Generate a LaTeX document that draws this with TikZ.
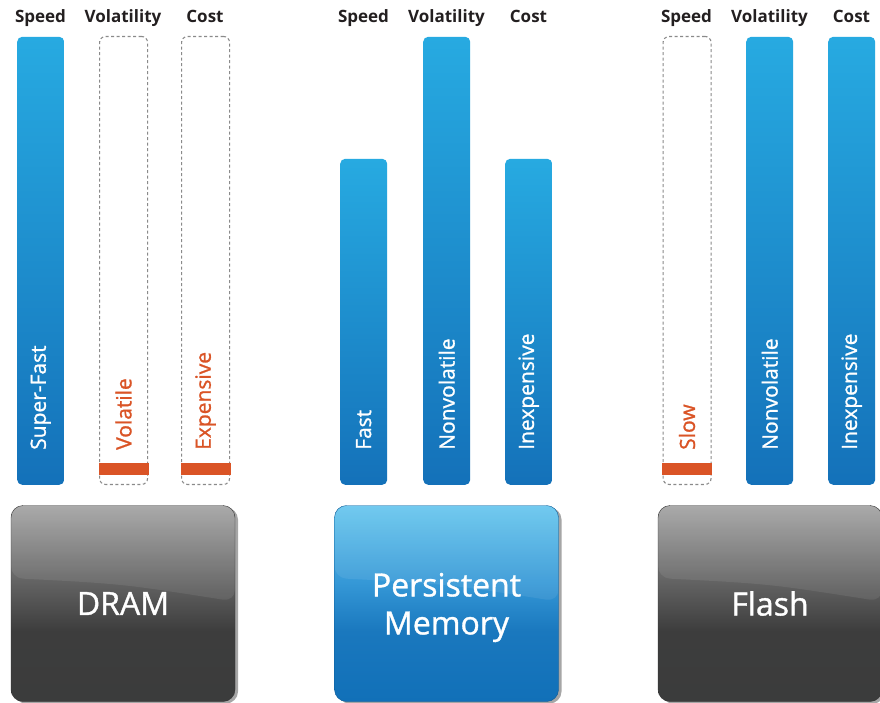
\documentclass[tikz,border=0pt]{standalone}
\usepackage{fontspec}
\setmainfont{Open Sans}
\newfontfamily\medfont{Open Sans}[FakeBold=1.1]
\usetikzlibrary{shadows,calc}

\definecolor{barlight}{HTML}{27AAE1}
\definecolor{bardark}{HTML}{1471B9}
\definecolor{flag}{HTML}{DA5426}
\definecolor{dashgray}{HTML}{8A8A8A}
\definecolor{ink}{HTML}{231F20}
\definecolor{grayA}{HTML}{A3A3A3}
\definecolor{grayB}{HTML}{616161}
\definecolor{grayC}{HTML}{3D3D3D}
\definecolor{grayD}{HTML}{3B3C3C}
\definecolor{blueA}{HTML}{66C6EE}
\definecolor{blueB}{HTML}{3497D6}
\definecolor{blueC}{HTML}{1A78BE}
\definecolor{blueD}{HTML}{1170B8}
\definecolor{blueEdge}{HTML}{0C5A96}

% Glassy card fills: light top, quick fall-off, flat dark lower half
\pgfdeclareverticalshading{graycardfill}{100bp}{%
  color(0bp)=(grayD); color(25bp)=(grayD); color(43bp)=(grayC);
  color(55bp)=(grayB); color(75bp)=(grayA); color(100bp)=(grayA)}
\pgfdeclareverticalshading{bluecardfill}{100bp}{%
  color(0bp)=(blueD); color(25bp)=(blueD); color(43bp)=(blueC);
  color(55bp)=(blueB); color(75bp)=(blueA); color(100bp)=(blueA)}

\tikzset{
  colhead/.style={font=\fontsize{17}{17}\selectfont\bfseries, text=ink, inner sep=0pt, anchor=base},
  fullbar/.style={rounded corners=5pt, top color=barlight, bottom color=bardark, draw=none,
    minimum width=47pt, anchor=south west, inner sep=0pt},
  emptybar/.style={rounded corners=6pt, draw=dashgray, dash pattern=on 3pt off 2.5pt, line width=1.1pt,
    minimum width=48pt, minimum height=448pt, anchor=south west, inner sep=0pt},
  flagbar/.style={fill=flag, draw=none, minimum width=50pt, minimum height=12pt, inner sep=0pt, anchor=south},
  barlabel/.style={rotate=90, anchor=west, inner sep=0pt, font=\medfont\fontsize{21}{21}\selectfont},
  onbar/.style={barlabel, text=white},
  offbar/.style={barlabel, text=flag},
  gloss/.style={path picture={
    \fill[white, opacity=0.08] (path picture bounding box.north west) -- (path picture bounding box.north east)
      -- ($(path picture bounding box.north east)!0.49!(path picture bounding box.south east)$)
      .. controls ($(path picture bounding box.north east)!0.5!(path picture bounding box.north west)
                   + (0,-0.40*196pt)$) ..
      ($(path picture bounding box.north west)!0.37!(path picture bounding box.south west)$) -- cycle;}},
  memcard/.style={rounded corners=12pt, minimum width=224pt, minimum height=196pt, inner sep=0pt, gloss,
    drop shadow={shadow xshift=3pt, shadow yshift=-2pt, opacity=0.35, fill=black}},
  cardtext/.style={text=white, font=\medfont\fontsize{32}{38}\selectfont, align=center, inner sep=0pt},
  graycard/.style={memcard, shading=graycardfill, draw=black!80},
  bluecard/.style={memcard, shading=bluecardfill, draw=blueEdge},
}

\begin{document}
\begin{tikzpicture}[x=1pt, y=-1pt]
\useasboundingbox (0,0) rectangle (880,702);
\fill[white] (0,0) rectangle (880,702);

% ---------- DRAM ----------
\node[colhead] (dram-h1) at (40.5,22) {Speed};
\node[colhead] (dram-h2) at (123,22) {Volatility};
\node[colhead] (dram-h3) at (205,22) {Cost};

\node[fullbar, minimum height=448pt] (dram-speed) at (17,485) {};
\node[emptybar] (dram-vol) at (99,485) {};
\node[emptybar] (dram-cost) at (181,485) {};

\node[flagbar] (dram-vol-flag) at ($(dram-vol.south)+(0,-10)$) {};
\node[flagbar] (dram-cost-flag) at ($(dram-cost.south)+(0,-10)$) {};

\node[onbar] (dram-speed-t) at ($(dram-speed.south)+(0,-35)$) {Super-Fast};
\node[offbar] (dram-vol-t) at ($(dram-vol.south)+(0,-35)$) {Volatile};
\node[offbar] (dram-cost-t) at ($(dram-cost.south)+(0,-35)$) {Expensive};

\node[graycard] (dram) at (123,603.5) {};
\node[cardtext] (dram-t) at (dram.center) {DRAM};

% ---------- Persistent Memory ----------
\node[colhead] (pm-h1) at (363.5,22) {Speed};
\node[colhead] (pm-h2) at (446.5,22) {Volatility};
\node[colhead] (pm-h3) at (528.5,22) {Cost};

\node[fullbar, minimum height=326pt] (pm-speed) at (340,485) {};
\node[fullbar, minimum height=448pt] (pm-vol) at (423,485) {};
\node[fullbar, minimum height=326pt] (pm-cost) at (505,485) {};

\node[onbar] (pm-speed-t) at ($(pm-speed.south)+(0,-35)$) {Fast};
\node[onbar] (pm-vol-t) at ($(pm-vol.south)+(0,-35)$) {Nonvolatile};
\node[onbar] (pm-cost-t) at ($(pm-cost.south)+(0,-35)$) {Inexpensive};

\node[bluecard] (pm) at (446.5,603.5) {};
\node[cardtext] (pm-t) at ($(pm.center)+(0,4)$) {Persistent\\Memory};

% ---------- Flash ----------
\node[colhead] (fl-h1) at (686.5,22) {Speed};
\node[colhead] (fl-h2) at (769.5,22) {Volatility};
\node[colhead] (fl-h3) at (851.5,22) {Cost};

\node[emptybar] (fl-speed) at (662.5,485) {};
\node[fullbar, minimum height=448pt] (fl-vol) at (746,485) {};
\node[fullbar, minimum height=448pt] (fl-cost) at (828,485) {};

\node[flagbar] (fl-speed-flag) at ($(fl-speed.south)+(0,-10)$) {};

\node[offbar] (fl-speed-t) at ($(fl-speed.south)+(0,-35)$) {Slow};
\node[onbar] (fl-vol-t) at ($(fl-vol.south)+(0,-35)$) {Nonvolatile};
\node[onbar] (fl-cost-t) at ($(fl-cost.south)+(0,-35)$) {Inexpensive};

\node[graycard] (flash) at (770,603.5) {};
\node[cardtext] (flash-t) at (flash.center) {Flash};
\end{tikzpicture}
\end{document}
